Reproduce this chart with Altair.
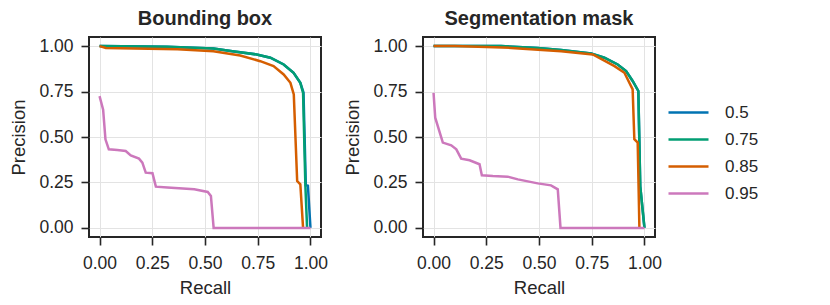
import altair as alt
import pandas as pd

thresholds = ["0.5", "0.75", "0.85", "0.95"]
colors = ["#0173b2", "#029e73", "#d55e00", "#cc78bc"]
panels = ["Bounding box", "Segmentation mask"]

# Bounding box
bb_r_50 = [0, 0.32, 0.54, 0.63, 0.745, 0.81, 0.873, 0.92, 0.952, 0.967, 0.978, 0.988, 1.0]
bb_p_50 = [1.0, 0.997, 0.987, 0.972, 0.954, 0.936, 0.899, 0.853, 0.798, 0.745, 0.235, 0.232, 0.0]
bb_r_75 = [0, 0.32, 0.54, 0.63, 0.745, 0.81, 0.873, 0.92, 0.952, 0.965, 0.976, 0.984]
bb_p_75 = [1.0, 0.997, 0.987, 0.972, 0.954, 0.936, 0.899, 0.853, 0.798, 0.743, 0.231, 0.0]
bb_r_85 = [0, 0.03, 0.37, 0.54, 0.667, 0.762, 0.825, 0.873, 0.905, 0.921, 0.937, 0.952, 0.965]
bb_p_85 = [1.0, 0.99, 0.982, 0.972, 0.948, 0.917, 0.89, 0.844, 0.798, 0.734, 0.258, 0.24, 0.0]
bb_r_95 = [0, 0.017, 0.028, 0.044, 0.084, 0.124, 0.148, 0.187, 0.203, 0.219, 0.251, 0.267,
           0.322, 0.449, 0.513, 0.528, 0.541, 1.0]
bb_p_95 = [0.725, 0.65, 0.487, 0.432, 0.428, 0.423, 0.399, 0.381, 0.359, 0.304, 0.301, 0.227,
           0.222, 0.212, 0.198, 0.176, 0.0, 0.0]

# Segmentation mask
sm_r_50 = [0, 0.32, 0.494, 0.605, 0.747, 0.81, 0.873, 0.913, 0.944, 0.971, 0.98, 1.0]
sm_p_50 = [1.0, 1.0, 0.99, 0.978, 0.959, 0.936, 0.899, 0.863, 0.808, 0.753, 0.23, 0.0]
sm_r_75 = [0, 0.32, 0.494, 0.605, 0.747, 0.81, 0.873, 0.913, 0.944, 0.971, 0.98, 1.0]
sm_p_75 = [1.0, 1.0, 0.99, 0.978, 0.959, 0.936, 0.899, 0.863, 0.808, 0.753, 0.23, 0.0]
sm_r_85 = [0, 0.1, 0.368, 0.605, 0.755, 0.858, 0.905, 0.944, 0.952, 0.968, 0.976]
sm_p_85 = [1.0, 1.0, 0.99, 0.972, 0.954, 0.89, 0.853, 0.762, 0.488, 0.469, 0.0]
sm_r_95 = [0, 0.008, 0.044, 0.084, 0.108, 0.131, 0.171, 0.218, 0.229, 0.281, 0.352, 0.4,
           0.494, 0.557, 0.589, 0.602, 1.0]
sm_p_95 = [0.743, 0.606, 0.469, 0.454, 0.432, 0.381, 0.372, 0.35, 0.289, 0.285, 0.282, 0.267,
           0.245, 0.234, 0.212, 0.0, 0.0]

series = {
    "Bounding box": [(bb_r_50, bb_p_50), (bb_r_75, bb_p_75), (bb_r_85, bb_p_85), (bb_r_95, bb_p_95)],
    "Segmentation mask": [(sm_r_50, sm_p_50), (sm_r_75, sm_p_75), (sm_r_85, sm_p_85), (sm_r_95, sm_p_95)],
}

rows = []
for panel, lst in series.items():
    for t, (rs, ps) in zip(thresholds, lst):
        for i, (r, p) in enumerate(zip(rs, ps)):
            rows.append({"panel": panel, "thr": t, "recall": r, "precision": p, "idx": i})
df = pd.DataFrame(rows)

ticks = [0, 0.25, 0.5, 0.75, 1.0]
font = "Liberation Sans"


def panel_chart(name):
    return alt.Chart(df[df.panel == name], title=name).mark_line(strokeWidth=2.5, clip=True).encode(
        x=alt.X("recall:Q", title="Recall",
                scale=alt.Scale(domain=[-0.05, 1.05], nice=False, zero=False),
                axis=alt.Axis(values=ticks, format=".2f", titleY=50, titleBaseline="middle")),
        y=alt.Y("precision:Q", title="Precision",
                scale=alt.Scale(domain=[-0.05, 1.05], nice=False, zero=False),
                axis=alt.Axis(values=ticks, format=".2f", titleX=-71, titleBaseline="middle")),
        color=alt.Color("thr:N", scale=alt.Scale(domain=thresholds, range=colors),
                        legend=alt.Legend(title=None, orient="none", legendX=591, legendY=67)),
        order=alt.Order("idx:Q"),
    ).properties(width=232, height=200)


chart = alt.hconcat(panel_chart(panels[0]), panel_chart(panels[1]), spacing=102, bounds="flush").configure_view(
    stroke="#262626", strokeWidth=2
).configure_axis(
    domain=False, grid=True, gridColor="#e3e3e3", gridWidth=1,
    tickColor="#262626", tickSize=8, tickWidth=1.6,
    labelFont=font, labelFontSize=17.5, labelColor="#262626",
    titleFont=font, titleFontSize=18.5, titleFontWeight="normal", titleColor="#262626",
).configure_axisX(
    labelPadding=9
).configure_axisY(
    labelPadding=8
).configure_title(
    font=font, fontSize=20, fontWeight="bold", color="#262626", offset=8, baseline="bottom"
).configure_legend(
    labelFont=font, labelFontSize=17, labelColor="#262626",
    symbolType="M-4,0L4,0", symbolStrokeWidth=2.5, symbolSize=100, rowPadding=9,
    padding=0, labelOffset=28,
).properties(padding={"left": 0, "top": 0, "right": 5, "bottom": 5})

chart.save("out.html", embed_options={"renderer": "svg", "actions": False})
